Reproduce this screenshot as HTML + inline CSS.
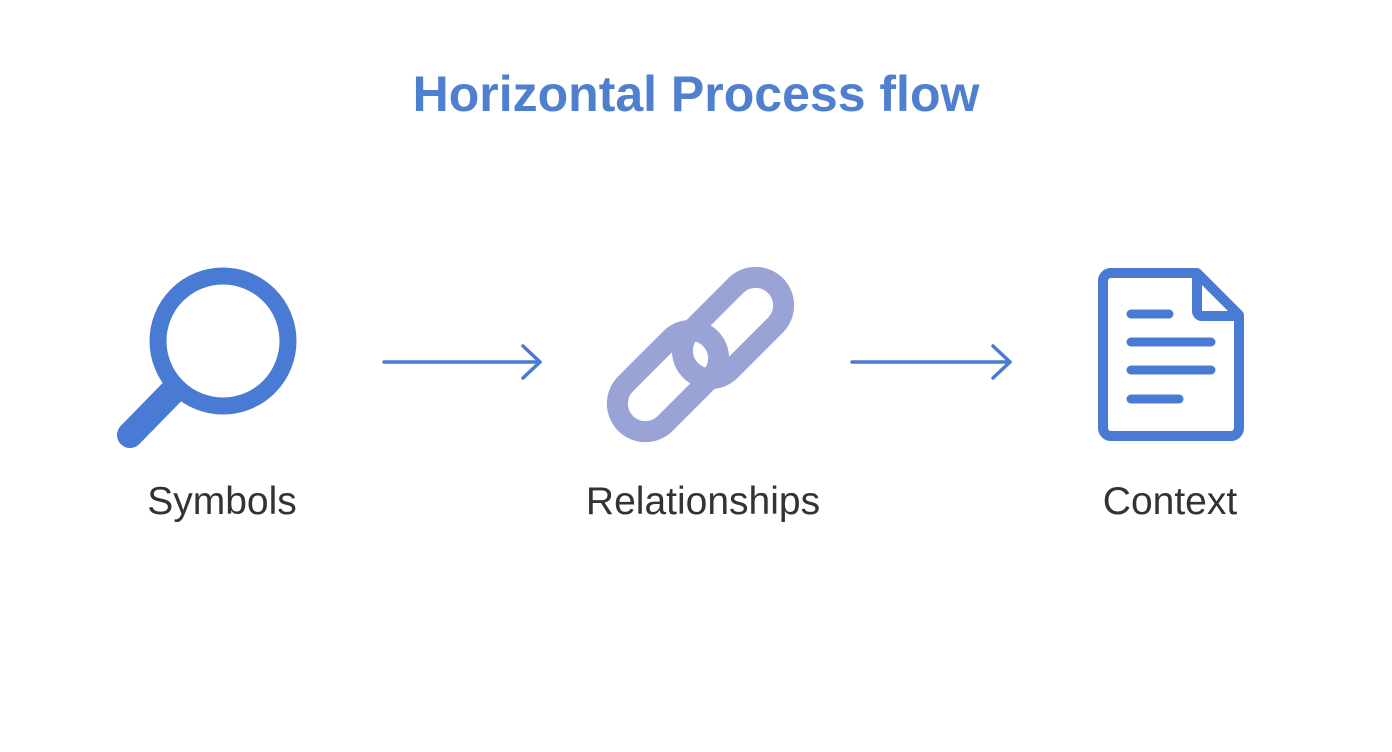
<!DOCTYPE html>
<html><head><style>
body{margin:0;width:1392px;height:752px;background:#fff;overflow:hidden;position:relative;font-family:"Liberation Sans",sans-serif}
.t{position:absolute;left:0;width:1392px;text-align:center;top:65px;font-size:50px;font-weight:bold;color:#4f7fcf}
.l{position:absolute;font-size:39px;color:#333;transform:translateX(-50%);top:480px;white-space:nowrap}
</style></head><body>
<div class="t">Horizontal Process flow</div>
<svg width="1392" height="752" style="position:absolute;left:0;top:0">
<g fill="none" stroke="#4a7bd4">
<circle cx="223" cy="341" r="65" stroke-width="17"/>
<line x1="172" y1="392" x2="130" y2="435" stroke-width="26" stroke-linecap="round"/>
<line x1="165" y1="399" x2="176" y2="388" stroke-width="14"/>
<path d="M1110 273 H1197 L1239 315 V428 a8 8 0 0 1 -8 8 H1111 a8 8 0 0 1 -8 -8 V281 a8 8 0 0 1 7 -8 Z" stroke-width="10" stroke-linejoin="round"/>
<path d="M1197 273 V311 a5 5 0 0 0 5 5 H1239" stroke-width="10" stroke-linejoin="round"/>
<g stroke-width="9" stroke-linecap="round">
<line x1="1131" y1="314" x2="1169" y2="314"/>
<line x1="1131" y1="342" x2="1211" y2="342"/>
<line x1="1131" y1="370" x2="1211" y2="370"/>
<line x1="1131" y1="399" x2="1179" y2="399"/>
</g>
<g stroke-width="3.5" stroke-linecap="round" stroke-linejoin="round">
<line x1="384" y1="362" x2="540" y2="362"/><polyline points="523,346 540,362 523,378"/>
<line x1="852" y1="362" x2="1010" y2="362"/><polyline points="993,346 1010,362 993,378"/>
</g>
</g>
<g fill="none" stroke="#99a3d6" stroke-width="21">
<rect x="673" y="300" width="120" height="56" rx="28" transform="rotate(-45 733 328)"/>
<rect x="608" y="353" width="120" height="56" rx="28" transform="rotate(-45 668 381)"/>
</g>
</svg>
<div class="l" style="left:222px">Symbols</div>
<div class="l" style="left:703px">Relationships</div>
<div class="l" style="left:1170px">Context</div>
</body></html>
